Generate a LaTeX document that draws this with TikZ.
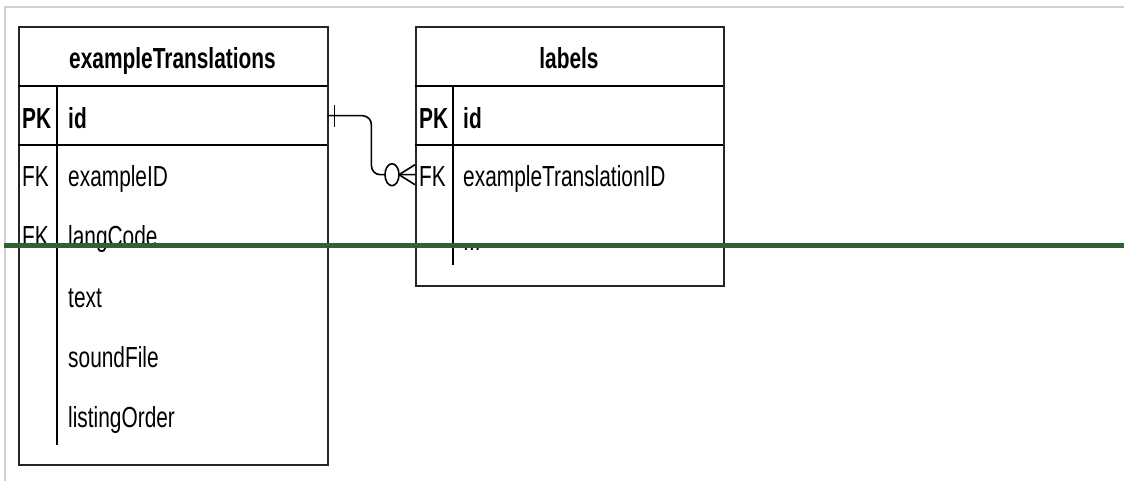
\documentclass[tikz,border=0pt]{standalone}
\usepackage{fontspec}
\setmainfont{Liberation Sans}[FakeStretch=0.72]
\usepackage{tikz}
\usetikzlibrary{positioning}
\definecolor{rulegreen}{RGB}{46,98,52}
\definecolor{framegray}{RGB}{208,208,208}

\begin{document}
\begin{tikzpicture}[x=1pt,y=-1pt,
  tbl/.style={draw=black!85,line width=2pt,anchor=north west,inner sep=0pt},
  row/.style={anchor=north west,inner sep=0pt,minimum height=59pt},
  fld/.style={anchor=base west,inner sep=0pt,font=\fontsize{29}{34}\selectfont},
  key/.style={fld,font=\fontsize{29}{34}\selectfont\bfseries},
  rel/.style={line width=1.6pt}]
\useasboundingbox (0,0) rectangle (1124,481);
\draw[framegray,line width=1.5pt] (5,481) -- (5,7) -- (1124,7);

% exampleTranslations
\path
(18,26)  node[tbl,minimum width=309pt,minimum height=438pt] (et) {}
(18,86)  node[row,minimum width=309pt] (et-pk) {}
(172.5,69) node[key,anchor=base] (et-name) {exampleTranslations}
(22,129) node[key] (et-k1) {PK}
(68,129) node[key] (et-f1) {id}
(22,186) node[fld] (et-k2) {FK}
(68,186) node[fld] (et-f2) {exampleID}
(22,246) node[fld] (et-k3) {FK}
(68,246) node[fld] (et-f3) {langCode}
(68,307) node[fld] (et-f4) {text}
(68,367) node[fld] (et-f5) {soundFile}
(68,427) node[fld] (et-f6) {listingOrder};
\draw[line width=2pt] (et-pk.north west) -- (et-pk.north east)
                      (et-pk.south west) -- (et-pk.south east);
\draw[line width=1.6pt] (57,86) -- (57,445);

% labels
\path
(415,26)  node[tbl,minimum width=308pt,minimum height=259pt] (lb) {}
(415,86)  node[row,minimum width=308pt] (lb-pk) {}
(415,145) node[row,minimum width=308pt] (lb-fk) {}
(569,69)  node[key,anchor=base] (lb-name) {labels}
(419,129) node[key] (lb-k1) {PK}
(463,129) node[key] (lb-f1) {id}
(419,186) node[fld] (lb-k2) {FK}
(463,186) node[fld] (lb-f2) {exampleTranslationID}
(463,250) node[fld] (lb-f3) {...};
\draw[line width=2pt] (lb-pk.north west) -- (lb-pk.north east)
                      (lb-pk.south west) -- (lb-pk.south east);
\draw[line width=1.6pt] (453,86) -- (453,265);

% one to zero-or-many
\draw[rel,rounded corners=9pt] (et-pk.east) -- ++(44,0) |- (lb-fk.west);
\draw[rel] ([xshift=7pt,yshift=11pt]et-pk.east) -- ([xshift=7pt,yshift=-11pt]et-pk.east);
\draw[rel] ([yshift=10pt]lb-fk.west) -- ([xshift=-16pt]lb-fk.west) -- ([yshift=-10pt]lb-fk.west);
\draw[rel,fill=white] ([xshift=-23pt]lb-fk.west) ellipse (7pt and 11pt);

\draw[rulegreen,line width=5pt] (4,245) -- (1124,245);
\end{tikzpicture}
\end{document}
